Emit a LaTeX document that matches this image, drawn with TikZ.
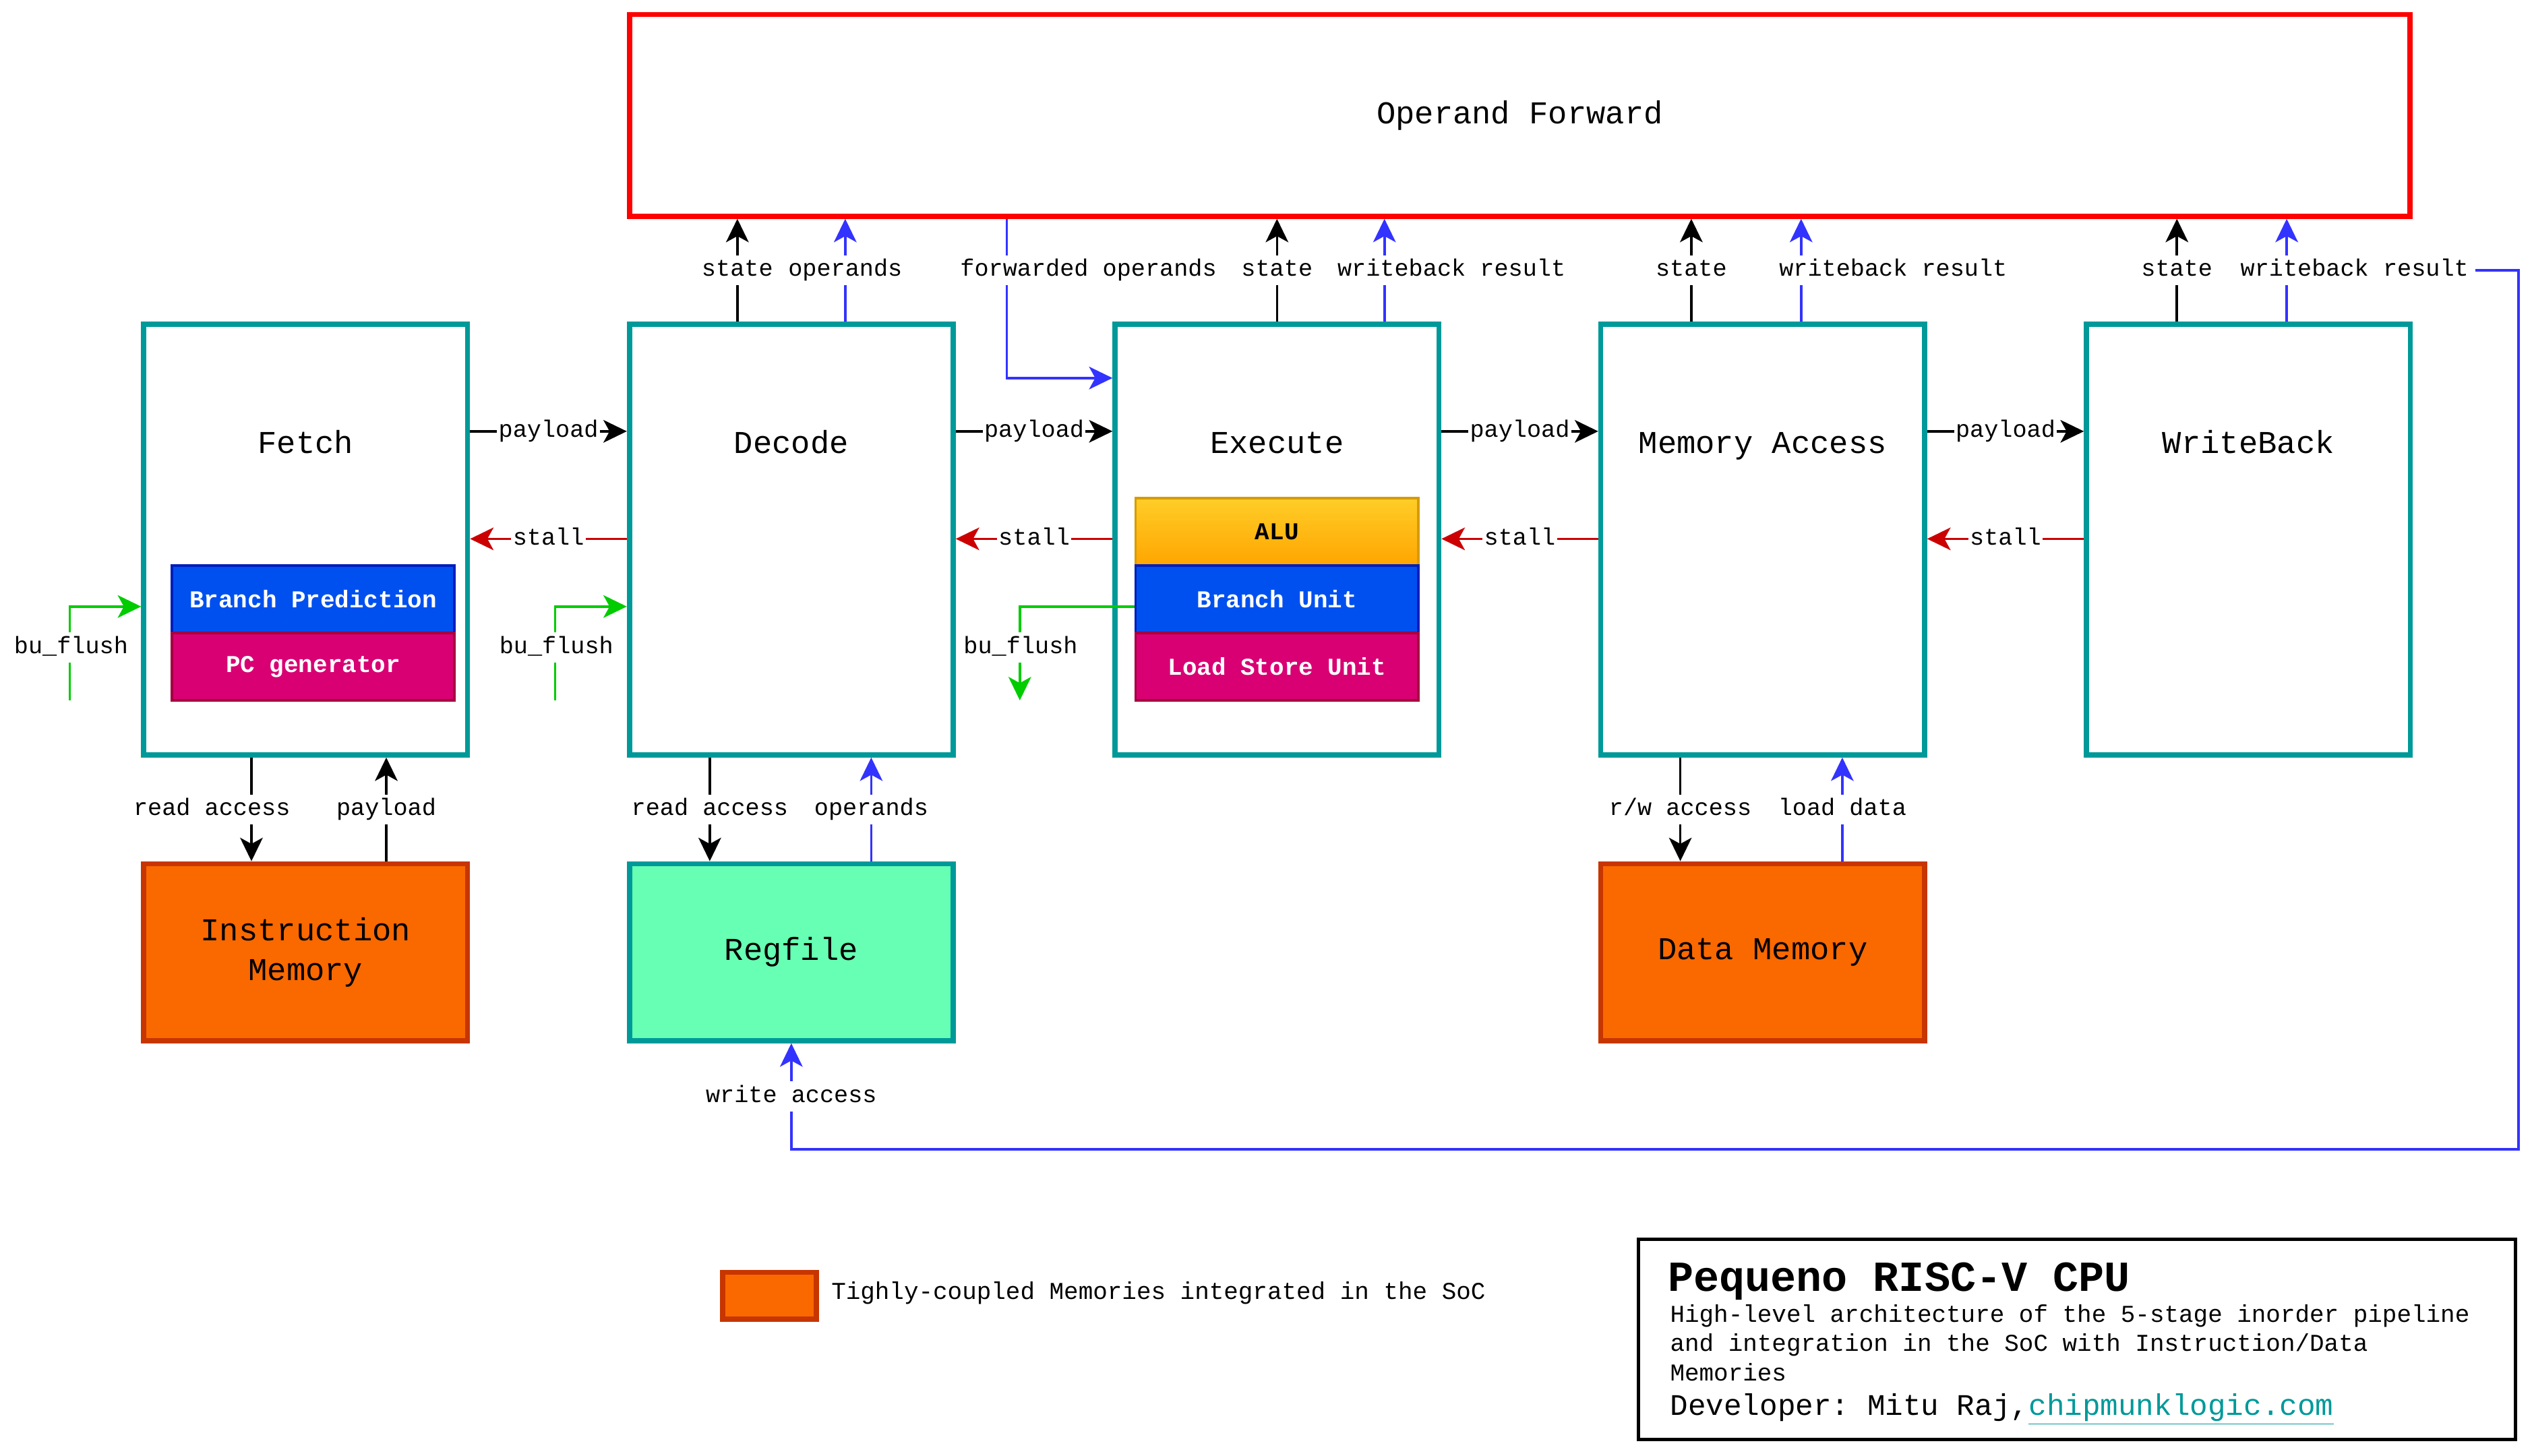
\documentclass[tikz,border=0pt]{standalone}
\usepackage{fontspec}
\setmainfont{Liberation Mono}
\usetikzlibrary{arrows.meta}
\definecolor{tealb}{HTML}{009999}
\definecolor{opred}{HTML}{FF0000}
\definecolor{stallred}{HTML}{CC0000}
\definecolor{blueln}{HTML}{3333FF}
\definecolor{greenln}{HTML}{00CC00}
\definecolor{bpfill}{HTML}{0050EF}
\definecolor{bpline}{HTML}{001DBC}
\definecolor{pcfill}{HTML}{D80073}
\definecolor{pcline}{HTML}{A50040}
\definecolor{alutop}{HTML}{FFCD28}
\definecolor{alubot}{HTML}{FFA500}
\definecolor{aluline}{HTML}{D79B00}
\definecolor{memfill}{HTML}{FA6800}
\definecolor{memline}{HTML}{C73500}
\definecolor{regfill}{HTML}{66FFB3}
\newcommand{\lblf}{\fontsize{14.7}{17}\selectfont}
\newcommand{\ttlf}{\fontsize{19.7}{24.5}\selectfont}
\newcommand{\subf}{\fontsize{15}{18}\selectfont\bfseries}
\frenchspacing
\begin{document}
\begin{tikzpicture}[x=1pt,y=-1pt,
  stagebox/.style={draw=tealb, line width=3.2pt, minimum width=200.5pt, minimum height=266.7pt, inner sep=0pt, fill=white},
  ttl/.style={font=\ttlf, anchor=base, inner sep=0pt},
  subbox/.style={line width=1.4pt, minimum width=175pt, minimum height=41.7pt, inner sep=0pt, font=\subf, text=white},
  membox/.style={line width=3.2pt, minimum width=200.5pt, minimum height=109.6pt, inner sep=0pt, font=\ttlf, align=center},
  lbl/.style={fill=white, inner xsep=1pt, inner ysep=2pt, text height=11pt, text depth=3.5pt, font=\lblf},
  conn/.style={line width=1.5pt, -{Stealth[length=14.5pt,width=14pt,inset=3.8pt]}},
  txt/.style={anchor=base west, inner sep=0pt}
]
\useasboundingbox (0,0) rectangle (1567.9,901.6);

% helper levels
\coordinate (ypay) at (0,267.1);
\coordinate (ystall) at (0,333.7);
\coordinate (ybu) at (0,375.6);
\coordinate (yfw) at (0,234.1);
\coordinate (yloop) at (0,711.7);

% Operand forward
\node[draw=opred, line width=3pt, minimum width=1102.5pt, minimum height=125pt, inner sep=0pt, font=\ttlf] (opfwd) at (941.1,71.5) {Operand Forward};

% stages
\node[stagebox] (fetch) at (189.25,334.15) {};
\node[stagebox] (decode) at (490,334.15) {};
\node[stagebox] (execute) at (790.75,334.15) {};
\node[stagebox] (memacc) at (1091.5,334.15) {};
\node[stagebox] (wb) at (1392.25,334.15) {};

\node[ttl] (fetcht) at (189.25,280.8) {Fetch};
\node[ttl] (decodet) at (490,280.8) {Decode};
\node[ttl] (executet) at (790.75,280.8) {Execute};
\node[ttl] (memacct) at (1091.5,280.8) {Memory Access};
\node[ttl] (wbt) at (1392.25,280.8) {WriteBack};

% sub units
\node[subbox, fill=bpfill, draw=bpline] (bp) at (193.9,371.05) {Branch Prediction};
\node[subbox, fill=pcfill, draw=pcline] (pcg) at (193.9,412.8) {PC generator};
\node[subbox, top color=alutop, bottom color=alubot, draw=aluline, text=black] (alu) at (790.75,329.3) {ALU};
\node[subbox, fill=bpfill, draw=bpline] (bu) at (790.75,371.05) {Branch Unit};
\node[subbox, fill=pcfill, draw=pcline] (lsu) at (790.75,412.8) {Load Store Unit};

% memories
\node[membox, fill=memfill, draw=memline] (imem) at (189.25,589.7) {Instruction\\Memory};
\node[membox, fill=regfill, draw=tealb] (regfile) at (490,589.7) {Regfile};
\node[membox, fill=memfill, draw=memline] (dmem) at (1091.5,589.7) {Data Memory};

% payload / stall
\draw[conn] (fetch.east |- ypay) -- node[lbl]{payload} (decode.west |- ypay);
\draw[conn] (decode.east |- ypay) -- node[lbl]{payload} (execute.west |- ypay);
\draw[conn] (execute.east |- ypay) -- node[lbl]{payload} (memacc.west |- ypay);
\draw[conn] (memacc.east |- ypay) -- node[lbl]{payload} (wb.west |- ypay);
\draw[conn, stallred] (decode.west |- ystall) -- node[lbl, text=black]{stall} (fetch.east |- ystall);
\draw[conn, stallred] (execute.west |- ystall) -- node[lbl, text=black]{stall} (decode.east |- ystall);
\draw[conn, stallred] (memacc.west |- ystall) -- node[lbl, text=black]{stall} (execute.east |- ystall);
\draw[conn, stallred] (wb.west |- ystall) -- node[lbl, text=black]{stall} (memacc.east |- ystall);

% x positions for top connectors
\coordinate (xds) at (456.6,0);
\coordinate (xdo) at (523.4,0);
\coordinate (xfw) at (623.5,0);
\coordinate (xes) at (790.75,0);
\coordinate (xew) at (857.3,0);
\coordinate (xms) at (1047.3,0);
\coordinate (xmw) at (1115.3,0);
\coordinate (xws) at (1348.0,0);
\coordinate (xww) at (1416.0,0);
\coordinate (xright) at (1559.6,0);

\draw[conn] (xds |- decode.north) -- node[lbl]{state} (xds |- opfwd.south);
\draw[conn, blueln] (xdo |- decode.north) -- node[lbl, text=black]{operands} (xdo |- opfwd.south);
\draw[conn, blueln] (xfw |- opfwd.south) -- (xfw |- yfw) -- (execute.west |- yfw);
\node[lbl] (fwdl) at (674,167.3) {forwarded operands};
\draw[conn] (xes |- execute.north) -- node[lbl]{state} (xes |- opfwd.south);
\draw[conn, blueln] (xew |- execute.north) -- node[lbl, text=black, xshift=41.5pt]{writeback result} (xew |- opfwd.south);
\draw[conn] (xms |- memacc.north) -- node[lbl]{state} (xms |- opfwd.south);
\draw[conn, blueln] (xmw |- memacc.north) -- node[lbl, text=black, xshift=57pt]{writeback result} (xmw |- opfwd.south);
\draw[conn] (xws |- wb.north) -- node[lbl]{state} (xws |- opfwd.south);
\draw[conn, blueln] (xww |- wb.north) -- node[lbl, text=black, xshift=42pt] (wbres) {writeback result} (xww |- opfwd.south);

% write access loop
\draw[conn, blueln] ([xshift=2.5pt]wbres.east) -- (xright |- wbres.east) -- (xright |- yloop) -- (regfile.south |- yloop) -- node[lbl, text=black]{write access} (regfile.south);

% bottom connectors
\coordinate (xfr) at (155.7,0);
\coordinate (xfp) at (239.2,0);
\coordinate (xdr) at (439.5,0);
\coordinate (xdp) at (539.5,0);
\coordinate (xmr) at (1040.5,0);
\coordinate (xml) at (1140.8,0);
\draw[conn] (xfr |- fetch.south) -- node[lbl, xshift=-24.5pt]{read access} (xfr |- imem.north);
\draw[conn] (xfp |- imem.north) -- node[lbl]{payload} (xfp |- fetch.south);
\draw[conn] (xdr |- decode.south) -- node[lbl]{read access} (xdr |- regfile.north);
\draw[conn, blueln] (xdp |- regfile.north) -- node[lbl, text=black]{operands} (xdp |- decode.south);
\draw[conn] (xmr |- memacc.south) -- node[lbl]{r/w access} (xmr |- dmem.north);
\draw[conn, blueln] (xml |- dmem.north) -- node[lbl, text=black]{load data} (xml |- memacc.south);

% bu_flush
\coordinate (bfa) at (43.2,433.7);
\coordinate (bfb) at (343.8,433.7);
\coordinate (bfc) at (631.5,433.7);
\draw[conn, greenln] (bfa) |- (fetch.west |- ybu);
\draw[conn, greenln] (bfb) |- (decode.west |- ybu);
\draw[conn, greenln] (bu.west |- ybu) -| (bfc);
\node[lbl] (bfal) at (44,401) {bu\_flush};
\node[lbl] (bfbl) at (344.5,401) {bu\_flush};
\node[lbl] (bfcl) at (632,401) {bu\_flush};

% legend
\node[draw=memline, fill=memfill, line width=3.2pt, minimum width=58pt, minimum height=29pt, inner sep=0pt] (leg) at (476.4,802.4) {};
\node[txt, font=\fontsize{15}{18}\selectfont] (legt) at (514.6,804.5) {Tighly-coupled Memories integrated in the SoC};

% title box
\node[draw=black, line width=2pt, minimum width=543pt, minimum height=124pt, inner sep=0pt] (tbox) at (1286,829.5) {};
\node[txt, font=\fontsize{26.5}{30}\selectfont\bfseries] (ptitle) at (1032.6,799.5) {Pequeno RISC-V CPU};
\node[txt, font=\fontsize{15}{18}\selectfont] (sub1) at (1034,818.9) {High-level architecture of the 5-stage inorder pipeline};
\node[txt, font=\fontsize{15}{18}\selectfont] (sub2) at (1034,836.9) {and integration in the SoC with Instruction/Data};
\node[txt, font=\fontsize{15}{18}\selectfont] (sub3) at (1034,855) {Memories};
\node[txt, font=\fontsize{18.5}{22}\selectfont] (dev) at (1034,876.5) {Developer: Mitu Raj,{\color{tealb}\underline{chipmunklogic.com}}};
\end{tikzpicture}
\end{document}
